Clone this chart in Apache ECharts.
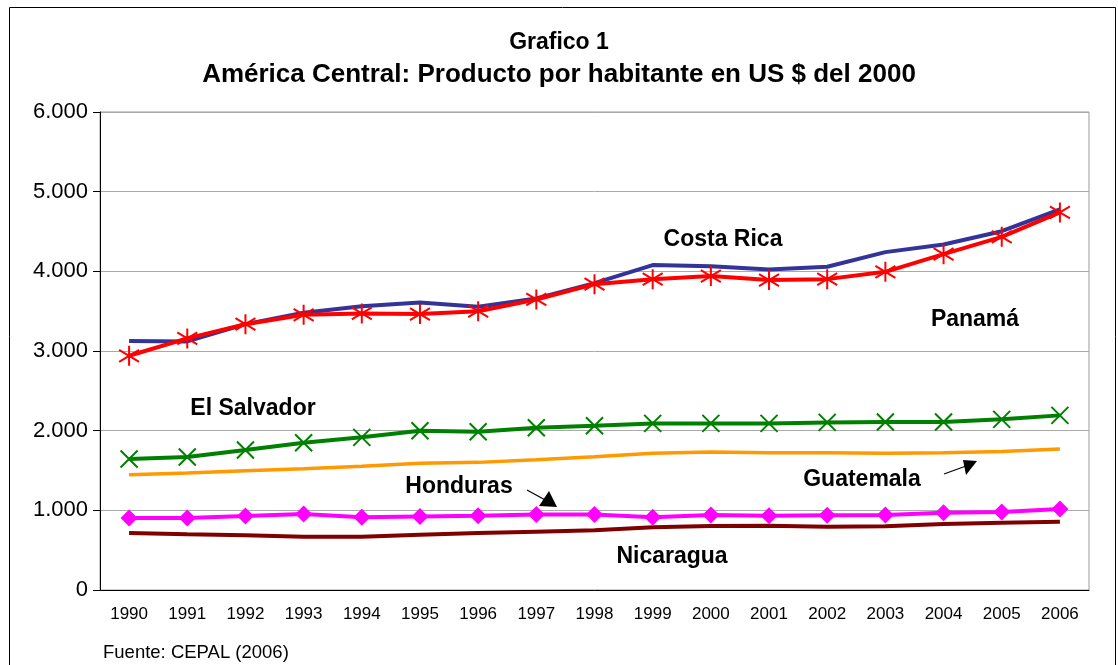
<!DOCTYPE html>
<html>
<head>
<meta charset="utf-8">
<script src="https://cdn.jsdelivr.net/npm/echarts@6/dist/echarts.min.js"></script>
<style>
  html, body { margin: 0; padding: 0; background: #fff; }
  #chart { width: 1118px; height: 665px; }
</style>
</head>
<body>
<div id="chart"></div>
<script>
  var years = ['1990','1991','1992','1993','1994','1995','1996','1997','1998','1999','2000','2001','2002','2003','2004','2005','2006'];
  var yTicks = [0, 1000, 2000, 3000, 4000, 5000, 6000];

  var costaRica   = [3124, 3120, 3337, 3480, 3563, 3610, 3555, 3660, 3852, 4078, 4065, 4024, 4057, 4241, 4337, 4504, 4777];
  var panama      = [2940, 3158, 3337, 3454, 3472, 3463, 3500, 3647, 3839, 3902, 3940, 3890, 3902, 3994, 4216, 4433, 4739];
  var elSalvador  = [1644, 1669, 1757, 1848, 1916, 1999, 1986, 2036, 2062, 2091, 2091, 2091, 2104, 2108, 2108, 2142, 2192];
  var guatemala   = [1447, 1468, 1497, 1522, 1552, 1590, 1602, 1635, 1673, 1715, 1731, 1723, 1723, 1715, 1723, 1740, 1769];
  var honduras    = [903, 903, 928, 954, 912, 924, 933, 949, 949, 912, 941, 933, 937, 941, 970, 979, 1016];
  var nicaragua   = [715, 699, 686, 669, 669, 694, 715, 732, 749, 787, 803, 807, 794, 799, 828, 845, 857];

  var font = '"Liberation Sans", Arial, sans-serif';
  var asterisk = 'path://M0,-10L0,10M-9,-6L9,6M-9,6L9,-6';
  var cross = 'path://M-9,-9L9,9M-9,9L9,-9';

  function fmt(v) {
    return String(v).replace(/\B(?=(\d{3})+(?!\d))/g, '.');
  }

  function label(text, x, y) {
    return { type: 'text', x: x, y: y,
      style: { text: text, font: 'bold 23px ' + font, fill: '#000', align: 'center', verticalAlign: 'middle' } };
  }

  var myChart = echarts.init(document.getElementById('chart'));
  myChart.setOption({
    animation: false,
    backgroundColor: '#fff',
    textStyle: { fontFamily: font },
    title: [
      { text: 'Grafico 1', left: 'center', top: 26,
        textStyle: { fontFamily: font, fontSize: 23, fontWeight: 'bold', color: '#000' } },
      { text: 'América Central: Producto por habitante en US $ del 2000', left: 'center', top: 57,
        textStyle: { fontFamily: font, fontSize: 26, fontWeight: 'bold', color: '#000' } }
    ],
    grid: {
      left: 100, right: 29, top: 112, bottom: 75,
      show: true, borderColor: '#999', borderWidth: 1
    },
    xAxis: {
      type: 'category',
      data: years,
      boundaryGap: true,
      axisLine: { lineStyle: { color: '#000', width: 1 } },
      axisTick: { length: 7, lineStyle: { color: '#000' } },
      axisLabel: { color: '#000', fontSize: 17, margin: 16, fontFamily: font, interval: 0 }
    },
    yAxis: {
      type: 'value',
      min: yTicks[0],
      max: yTicks[yTicks.length - 1],
      interval: 1000,
      axisLine: { show: true, lineStyle: { color: '#000', width: 1 } },
      axisTick: { show: true, length: 7, lineStyle: { color: '#000' } },
      axisLabel: { color: '#000', fontSize: 22, margin: 12, fontFamily: font, formatter: fmt },
      splitLine: { lineStyle: { color: '#aaa', width: 1 } }
    },
    series: [
      { name: 'Costa Rica', type: 'line', data: costaRica, symbol: 'none',
        lineStyle: { color: '#333399', width: 4 }, itemStyle: { color: '#333399' } },
      { name: 'Panamá', type: 'line', data: panama, symbol: asterisk, symbolSize: 20,
        lineStyle: { color: '#ff0000', width: 4 },
        itemStyle: { color: 'rgba(0,0,0,0)', borderColor: '#ff0000', borderWidth: 2 } },
      { name: 'El Salvador', type: 'line', data: elSalvador, symbol: cross, symbolSize: 17,
        lineStyle: { color: '#008000', width: 4 },
        itemStyle: { color: 'rgba(0,0,0,0)', borderColor: '#008000', borderWidth: 2 } },
      { name: 'Guatemala', type: 'line', data: guatemala, symbol: 'none',
        lineStyle: { color: '#ff9900', width: 3.5 }, itemStyle: { color: '#ff9900' } },
      { name: 'Honduras', type: 'line', data: honduras, symbol: 'diamond', symbolSize: 17,
        lineStyle: { color: '#ff00ff', width: 4 }, itemStyle: { color: '#ff00ff' } },
      { name: 'Nicaragua', type: 'line', data: nicaragua, symbol: 'none',
        lineStyle: { color: '#800000', width: 4 }, itemStyle: { color: '#800000' } }
    ],
    graphic: [
      { type: 'rect', left: 7, top: 5, z: -1, silent: true,
        shape: { width: 1106, height: 700 },
        style: { fill: 'none', stroke: '#000', lineWidth: 1 } },
      { type: 'text', x: 103, y: 653,
        style: { text: 'Fuente: CEPAL (2006)', font: '18.5px ' + font, fill: '#000', verticalAlign: 'middle' } },
      label('Costa Rica', 723, 240),
      label('Panamá', 975, 320),
      label('El Salvador', 253, 409),
      label('Honduras', 459, 487),
      label('Guatemala', 862, 480),
      label('Nicaragua', 672, 557),
      { type: 'line', shape: { x1: 527, y1: 490, x2: 547, y2: 501 }, style: { stroke: '#000', lineWidth: 1.2 } },
      { type: 'polygon', shape: { points: [[539, 506], [549, 491], [557, 507]] }, style: { fill: '#000' } },
      { type: 'line', shape: { x1: 944, y1: 474, x2: 966, y2: 466 }, style: { stroke: '#000', lineWidth: 1.2 } },
      { type: 'polygon', shape: { points: [[963, 460], [977, 461], [966, 475]] }, style: { fill: '#000' } }
    ]
  });
  window.addEventListener('resize', function () { myChart.resize(); });
</script>
</body>
</html>
